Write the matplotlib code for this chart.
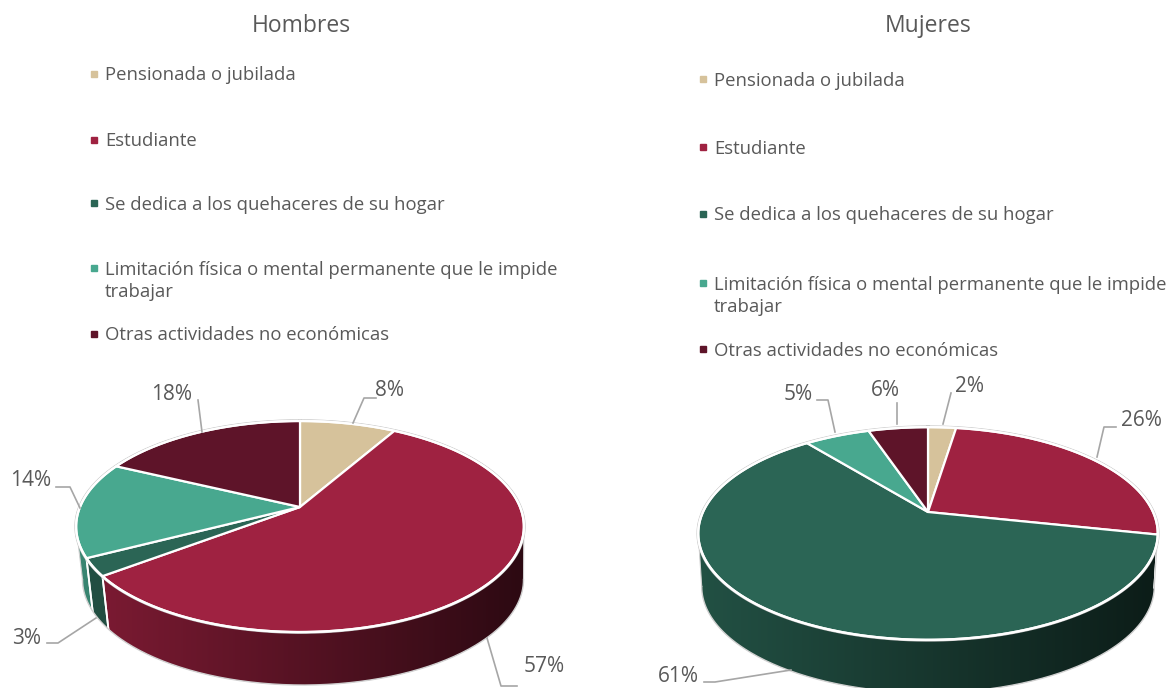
import numpy as np
import matplotlib
matplotlib.use('Agg')
import matplotlib.pyplot as plt
from matplotlib.colors import to_rgb
from matplotlib.patches import Polygon

plt.rcParams['font.family'] = ['Open Sans', 'DejaVu Sans']

# Data
categorias = ['Pensionada o jubilada',
              'Estudiante',
              'Se dedica a los quehaceres de su hogar',
              'Limitación física o mental permanente que le impide\ntrabajar',
              'Otras actividades no económicas']
colores = ['#D6C29B', '#9F2241', '#2B6555', '#48A88F', '#5E1429']

hombres = [8.3, 56.4, 2.7, 14.7, 17.9]
mujeres = [2.4, 26, 60.9, 5.6, 5.1]
hombres_txt = ['8%', '57%', '3%', '14%', '18%']
mujeres_txt = ['2%', '26%', '61%', '5%', '6%']

GRIS = '#595959'
GUIA = '#A6A6A6'


def proyecta(ang, g):
    # angle clockwise from the top of the pie -> picture position (perspective)
    u, v = np.sin(ang), np.cos(ang)
    w = 1 + g['k'] * v
    return g['cx'] + g['a'] * u / w, g['cy'] - g['b'] * v / w


def abajo(x, g):
    return g['cx'] + (x - g['cx']) * g['enc'] + g['dx']


def pastel(ax, valores, g):
    fr = np.cumsum([0] + list(valores)) / np.sum(valores) * 2 * np.pi
    corte = np.arccos(-g['k'])  # where the side wall stops being visible
    x_ini, x_fin = g['cx'] - g['rx'], g['cx'] + g['rx']
    y_ini, y_fin = g['cy'], g['cy'] + 190
    pos = np.linspace(0, 1, 256)[None, :, None]

    # side wall, one gradient image per slice
    for i, c in enumerate(colores):
        ini, fin = max(fr[i], corte), min(fr[i + 1], 2 * np.pi - corte)
        if fin <= ini:
            continue
        t = np.linspace(ini, fin, 100)
        xs, ys = proyecta(t, g)
        pts = np.r_[np.column_stack([xs, ys]),
                    np.column_stack([abajo(xs, g), ys + g['d']])[::-1]]
        img = np.array(to_rgb(c))[None, None, :] * (0.80 - 0.52 * pos)
        im = ax.imshow(img, extent=(x_ini, x_fin, y_fin, y_ini), aspect='auto', zorder=2)
        im.set_clip_path(Polygon(pts, closed=True, transform=ax.transData))
        # white separator on the wall
        for a in (fr[i], fr[i + 1]):
            if corte <= a <= 2 * np.pi - corte:
                x0, y0 = proyecta(a, g)
                ax.plot([x0, abajo(x0, g)], [y0, y0 + g['d']], color='white', lw=1.3, zorder=3)

    # outline of the wall
    t = np.linspace(corte, 2 * np.pi - corte, 200)
    xr, yr = proyecta(t, g)
    xb = abajo(xr, g)
    ax.plot(xb, yr + g['d'], color='#D0D0D0', lw=1.0, zorder=3)
    ax.plot([xr[0], xb[0]], [yr[0], yr[0] + g['d']], color='#D0D0D0', lw=0.8, zorder=3)
    ax.plot([xr[-1], xb[-1]], [yr[-1], yr[-1] + g['d']], color='#D0D0D0', lw=0.8, zorder=3)

    # top face
    for i, c in enumerate(colores):
        t = np.linspace(fr[i], fr[i + 1], 200)
        xs, ys = proyecta(t, g)
        pts = np.column_stack([np.r_[g['cx'], xs], np.r_[g['cy'], ys]])
        ax.add_patch(Polygon(pts, closed=True, fc=c, ec='white', lw=1.6, joinstyle='round', zorder=4))
    t = np.linspace(0, 2 * np.pi, 400)
    xs, ys = proyecta(t, g)
    ax.plot(xs, ys, color='#C8C8C8', lw=2.6, zorder=3.5)
    ax.plot(xs, ys, color='white', lw=1.6, zorder=5)


def leyenda(ax, x, ys):
    for c, nombre, y in zip(colores, categorias, ys):
        ax.plot([x - 11], [y], marker='s', ms=5, color=c, ls='none', zorder=6)
        yt = y + 13 if '\n' in nombre else y + 1.5
        ax.text(x, yt, nombre, color=GRIS, fontsize=13.3, va='center', ha='left', linespacing=1.3)


def etiquetas(ax, textos, pos, guias):
    for txt, p, g in zip(textos, pos, guias):
        ax.text(p[0], p[1], txt, color=GRIS, fontsize=15, ha='center', va='center')
        ax.plot([q[0] for q in g], [q[1] for q in g], color=GUIA, lw=1.2, zorder=7)


fig = plt.figure(figsize=(11.7, 6.88), dpi=100)
ax = fig.add_axes([0, 0, 1, 1])

ax.text(301, 26, 'Hombres', color=GRIS, fontsize=16.5, ha='center', va='center')
ax.text(928, 26, 'Mujeres', color=GRIS, fontsize=16.5, ha='center', va='center')

leyenda(ax, 105, [74, 140, 203, 268, 334])
leyenda(ax, 714, [79, 147, 214, 283, 349])

geo_h = dict(cx=300, cy=507, a=220, b=101.9, k=0.185, rx=224, d=53, enc=0.985, dx=3)
geo_m = dict(cx=928, cy=512, a=225, b=102, k=0.202, rx=230, d=53, enc=0.985, dx=0)

pastel(ax, hombres, geo_h)
pastel(ax, mujeres, geo_m)

etiquetas(ax, hombres_txt,
          [(390, 391), (544, 667), (27, 638), (31, 480), (172, 394)],
          [[(353, 423), (364, 398), (376, 398)],
           [(487, 638), (501, 686), (517, 686)],
           [(96, 618), (58, 643), (47, 643)],
           [(80, 508), (70, 487), (56, 487)],
           [(202, 432), (198, 400)]])

etiquetas(ax, mujeres_txt,
          [(970, 386), (1141, 421), (678, 676), (798, 394), (885, 391)],
          [[(943, 424), (951, 393)],
           [(1097, 457), (1104, 427), (1116, 427)],
           [(791, 670), (715, 682), (704, 682)],
           [(835, 432), (828, 400), (817, 400)],
           [(897, 424), (897, 403)]])

ax.set_xlim(0, 1170)
ax.set_ylim(688, 0)
ax.axis('off')

fig.savefig('out.png', dpi=100, facecolor='white')
